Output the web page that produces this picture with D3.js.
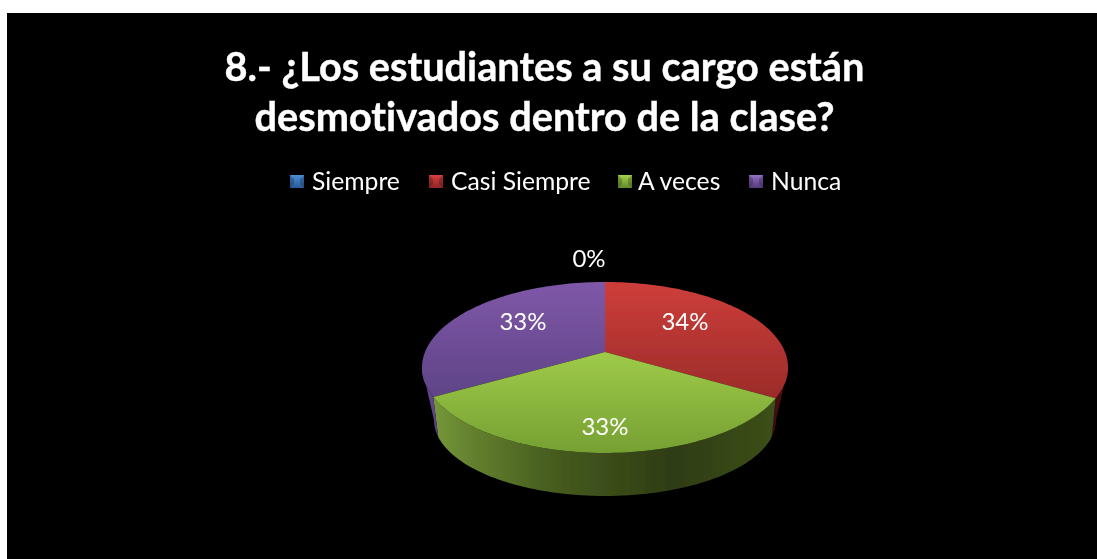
<!DOCTYPE html>
<html><head><meta charset="utf-8">
<script src="https://cdn.jsdelivr.net/npm/d3@7/dist/d3.min.js"></script>
<style>html,body{margin:0;padding:0;background:#fff;overflow:hidden}svg{display:block}
text{font-family:Lato,"Open Sans",sans-serif;fill:#fff;font-variant-ligatures:none}</style></head><body>
<div id="chart"></div>
<script>
const titleLines = ["8.- ¿Los estudiantes a su cargo están", "desmotivados dentro de la clase?"];
const categories = ["Siempre", "Casi Siempre", "A veces", "Nunca"];
const shares = [0, 33.5, 33.25, 33.25];
const topColors = [["#4f81bd","#3a6496"],["#ce3e3a","#9a2b29"],["#9fcb4a","#76a032"],["#7f58a8","#5e4386"]];
const sideStops = {
  1: [["0%","#3a0d0c"],["100%","#5a1412"]],
  2: [["0%","#76983a"],["12%","#627f2e"],["35%","#465c1f"],["70%","#2e3c13"],["100%","#3d4f1a"]],
  3: [["0%","#6a4c96"],["100%","#5a4080"]]
};
const legendMarkers = [["#4a8fd8","#2a5a98"],["#d84040","#902424"],["#a4d24a","#64882a"],["#9470c4","#54397c"]];
const legendX = [290, 429, 618, 749];
const legendTextX = [312, 451, 638, 771];
const labelPos = [[589,267],[685,330],[605,435],[523,330]];

const W = 1097, H = 559;
const svg = d3.select("#chart").append("svg").attr("width", W).attr("height", H);
const defs = svg.append("defs");
defs.append("filter").attr("id","soft").attr("x","-5%").attr("y","-5%").attr("width","110%").attr("height","110%")
  .append("feGaussianBlur").attr("stdDeviation",0.45);
svg.append("rect").attr("x",7).attr("y",13).attr("width",W-7).attr("height",H-13).attr("fill","#000");
const root = svg.append("g").attr("filter","url(#soft)");

// title
root.selectAll("text.title").data(titleLines).join("text").attr("class","title")
  .attr("x",544.5).attr("y",(d,i)=>81+i*50).attr("text-anchor","middle")
  .style("font-size","39.7px").style("font-weight",700)
  .style("stroke","#fff").style("stroke-width","0.4px").text(d=>d);

// legend
categories.forEach((c,i)=>{
  const g = defs.append("linearGradient").attr("id","lg"+i).attr("x1",0).attr("y1",0).attr("x2",0).attr("y2",1);
  g.append("stop").attr("offset","0%").attr("stop-color",legendMarkers[i][0]);
  g.append("stop").attr("offset","100%").attr("stop-color",legendMarkers[i][1]);
});
const lg = root.selectAll("g.leg").data(categories).join("g").attr("class","leg")
  .attr("transform",(d,i)=>`translate(${legendX[i]},175)`);
lg.append("rect").attr("width",14).attr("height",13).attr("fill",(d,i)=>`url(#lg${i})`);
lg.append("path").attr("d","M0,0L4,4V9L0,13Z M14,0L10,4V9L14,13Z").attr("fill","#000").attr("opacity",0.22);
lg.append("text").attr("x",(d,i)=>legendTextX[i]-legendX[i]).attr("y",15).style("font-size","24.7px").text(d=>d);

// pie with perspective projection of a unit disc
const cx = 605, topY0 = 352, a = 180, b = 82.7, p = 0.181;
const project = (theta, sx, sy, y0) => {
  const u = Math.sin(theta), v = -Math.cos(theta), k = 1/(1-p*v);
  return [cx + sx*a*u*k, y0 + sy*b*v*k];
};
const rad = d => d*Math.PI/180;
const botSx = 0.934, botSy = 0.885, botY0 = 406.6;
const pie = d3.pie().sort(null).value(d=>d);
const arcs = pie(shares);
const line = d3.line();
const samples = (a0,a1,n=80) => d3.range(n+1).map(i=>a0+(a1-a0)*i/n);

// silhouette angles and the top-rim to bottom-rim angle mapping
const visFrom = rad(100.4), visTo = rad(259.6);
const toBottom = d3.scaleLinear()
  .domain([visFrom, rad(120.6), rad(240.3), visTo])
  .range([visFrom, rad(112.7), rad(247.3), visTo]);

// side walls
[1,2,3].forEach(i=>{
  const d = arcs[i], a0 = Math.max(d.startAngle,visFrom), a1 = Math.min(d.endAngle,visTo);
  const angles = samples(a0,a1);
  const top = angles.map(t=>project(t,1,1,topY0));
  const bot = angles.map(t=>project(toBottom(t),botSx,botSy,botY0)).reverse();
  const xs = top.concat(bot).map(q=>q[0]);
  const gid = "side"+i;
  const g = defs.append("linearGradient").attr("id",gid).attr("gradientUnits","userSpaceOnUse")
    .attr("x1",d3.min(xs)).attr("x2",d3.max(xs)).attr("y1",0).attr("y2",0);
  sideStops[i].forEach(s=>g.append("stop").attr("offset",s[0]).attr("stop-color",s[1]));
  root.append("path").attr("d",line(top.concat(bot))+"Z").attr("fill",`url(#${gid})`);
});

// top faces
[1,3,2].forEach(i=>{
  const d = arcs[i];
  const g = defs.append("linearGradient").attr("id","top"+i).attr("gradientUnits","userSpaceOnUse")
    .attr("x1",0).attr("x2",0).attr("y1",i===2?352:282).attr("y2",i===2?453:400);
  g.append("stop").attr("offset","0%").attr("stop-color",topColors[i][0]);
  g.append("stop").attr("offset","100%").attr("stop-color",topColors[i][1]);
  const pts = [[cx,topY0]].concat(samples(d.startAngle,d.endAngle).map(t=>project(t,1,1,topY0)));
  root.append("path").attr("d",line(pts)+"Z").attr("fill",`url(#top${i})`);
});

// data labels
root.selectAll("text.lab").data(arcs).join("text").attr("class","lab")
  .attr("x",(d,i)=>labelPos[i][0]).attr("y",(d,i)=>labelPos[i][1])
  .attr("text-anchor","middle").style("font-size","24px")
  .text(d=>Math.round(d.data)+"%");
</script></body></html>
